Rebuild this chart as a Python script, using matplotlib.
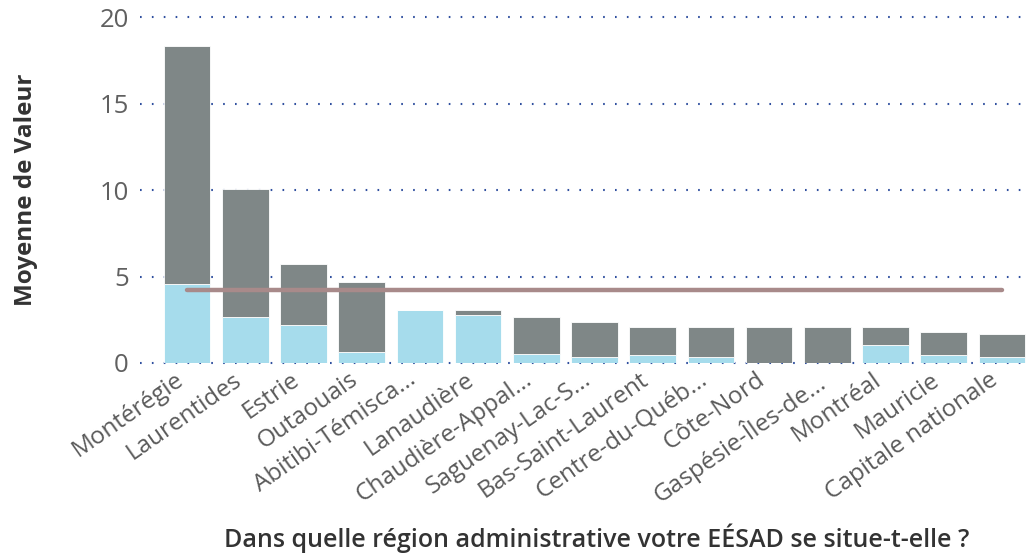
import numpy as np
import matplotlib.pyplot as plt
import matplotlib.transforms as mtransforms

# regions, sorted like the source chart
regions = ["Montérégie", "Laurentides", "Estrie", "Outaouais", "Abitibi-Témisca...",
           "Lanaudière", "Chaudière-Appal...", "Saguenay-Lac-S...", "Bas-Saint-Laurent",
           "Centre-du-Québ...", "Côte-Nord", "Gaspésie-Îles-de...", "Montréal",
           "Mauricie", "Capitale nationale"]

# lower (light blue) segment and total bar height
light_vals = [4.58, 2.66, 2.17, 0.64, 3.04, 2.75, 0.54, 0.35, 0.44, 0.35, 0.0, 0.0, 1.02, 0.44, 0.35]
total_vals = [18.36, 10.07, 5.74, 4.66, 3.04, 3.04, 2.66, 2.37, 2.08, 2.08, 2.08, 2.08, 2.08, 1.79, 1.69]
average_val = 4.2

yticks = [0, 5, 10, 15, 20]

light = np.array(light_vals)
dark = np.array(total_vals) - light
x = np.arange(len(regions))

plt.rcParams['font.family'] = ['Open Sans', 'DejaVu Sans']

fig = plt.figure(figsize=(10.28, 5.54), dpi=100)
ax = fig.add_axes([140/1028, 1 - 363/554, 888/1028, (363 - 17.3)/554])

# dotted grid behind the bars
for t in yticks:
    ax.axhline(t, color='#2f4f9f', linewidth=1.5, linestyle=(0, (0.8, 4.9)),
               zorder=0, clip_on=False)

ax.bar(x, light, width=0.8, color='#a6dcec', edgecolor='white', linewidth=0.6, zorder=2)
ax.bar(x, dark, width=0.8, bottom=light, color='#7f8787', edgecolor='white',
       linewidth=0.6, zorder=2)

# average line
ax.plot([x[0], x[-1]], [average_val, average_val], color='#a88a8a', linewidth=3.2,
        solid_capstyle='round', zorder=3)

ax.set_xlim(-0.81, 14.45)
ax.set_ylim(0, 20)
ax.set_yticks(yticks)
ax.set_yticklabels([str(t) for t in yticks], fontsize=18.5, color='#606060')
ax.tick_params(axis='y', length=0, pad=8)
ax.tick_params(axis='x', length=0, pad=2)
ax.set_xticks(x)
ax.set_xticklabels(regions, rotation=35, ha='right', rotation_mode='anchor',
                   fontsize=17.5, color='#5a5a5a')
shift = mtransforms.ScaledTranslation(-13/100, -2/100, fig.dpi_scale_trans)
for lbl in ax.get_xticklabels():
    lbl.set_transform(lbl.get_transform() + shift)
for s in ax.spines.values():
    s.set_visible(False)

fig.text(26/1028, 1 - 190/554, "Moyenne de Valeur", rotation=90, ha='center', va='center',
         fontsize=17.5, fontweight='bold', color='#333333')
fig.text(597/1028, 1 - 538/554, "Dans quelle région administrative votre EÉSAD se situe-t-elle ?",
         ha='center', va='center', fontsize=18, fontweight='semibold', color='#333333')

fig.savefig("out.png", dpi=100)
